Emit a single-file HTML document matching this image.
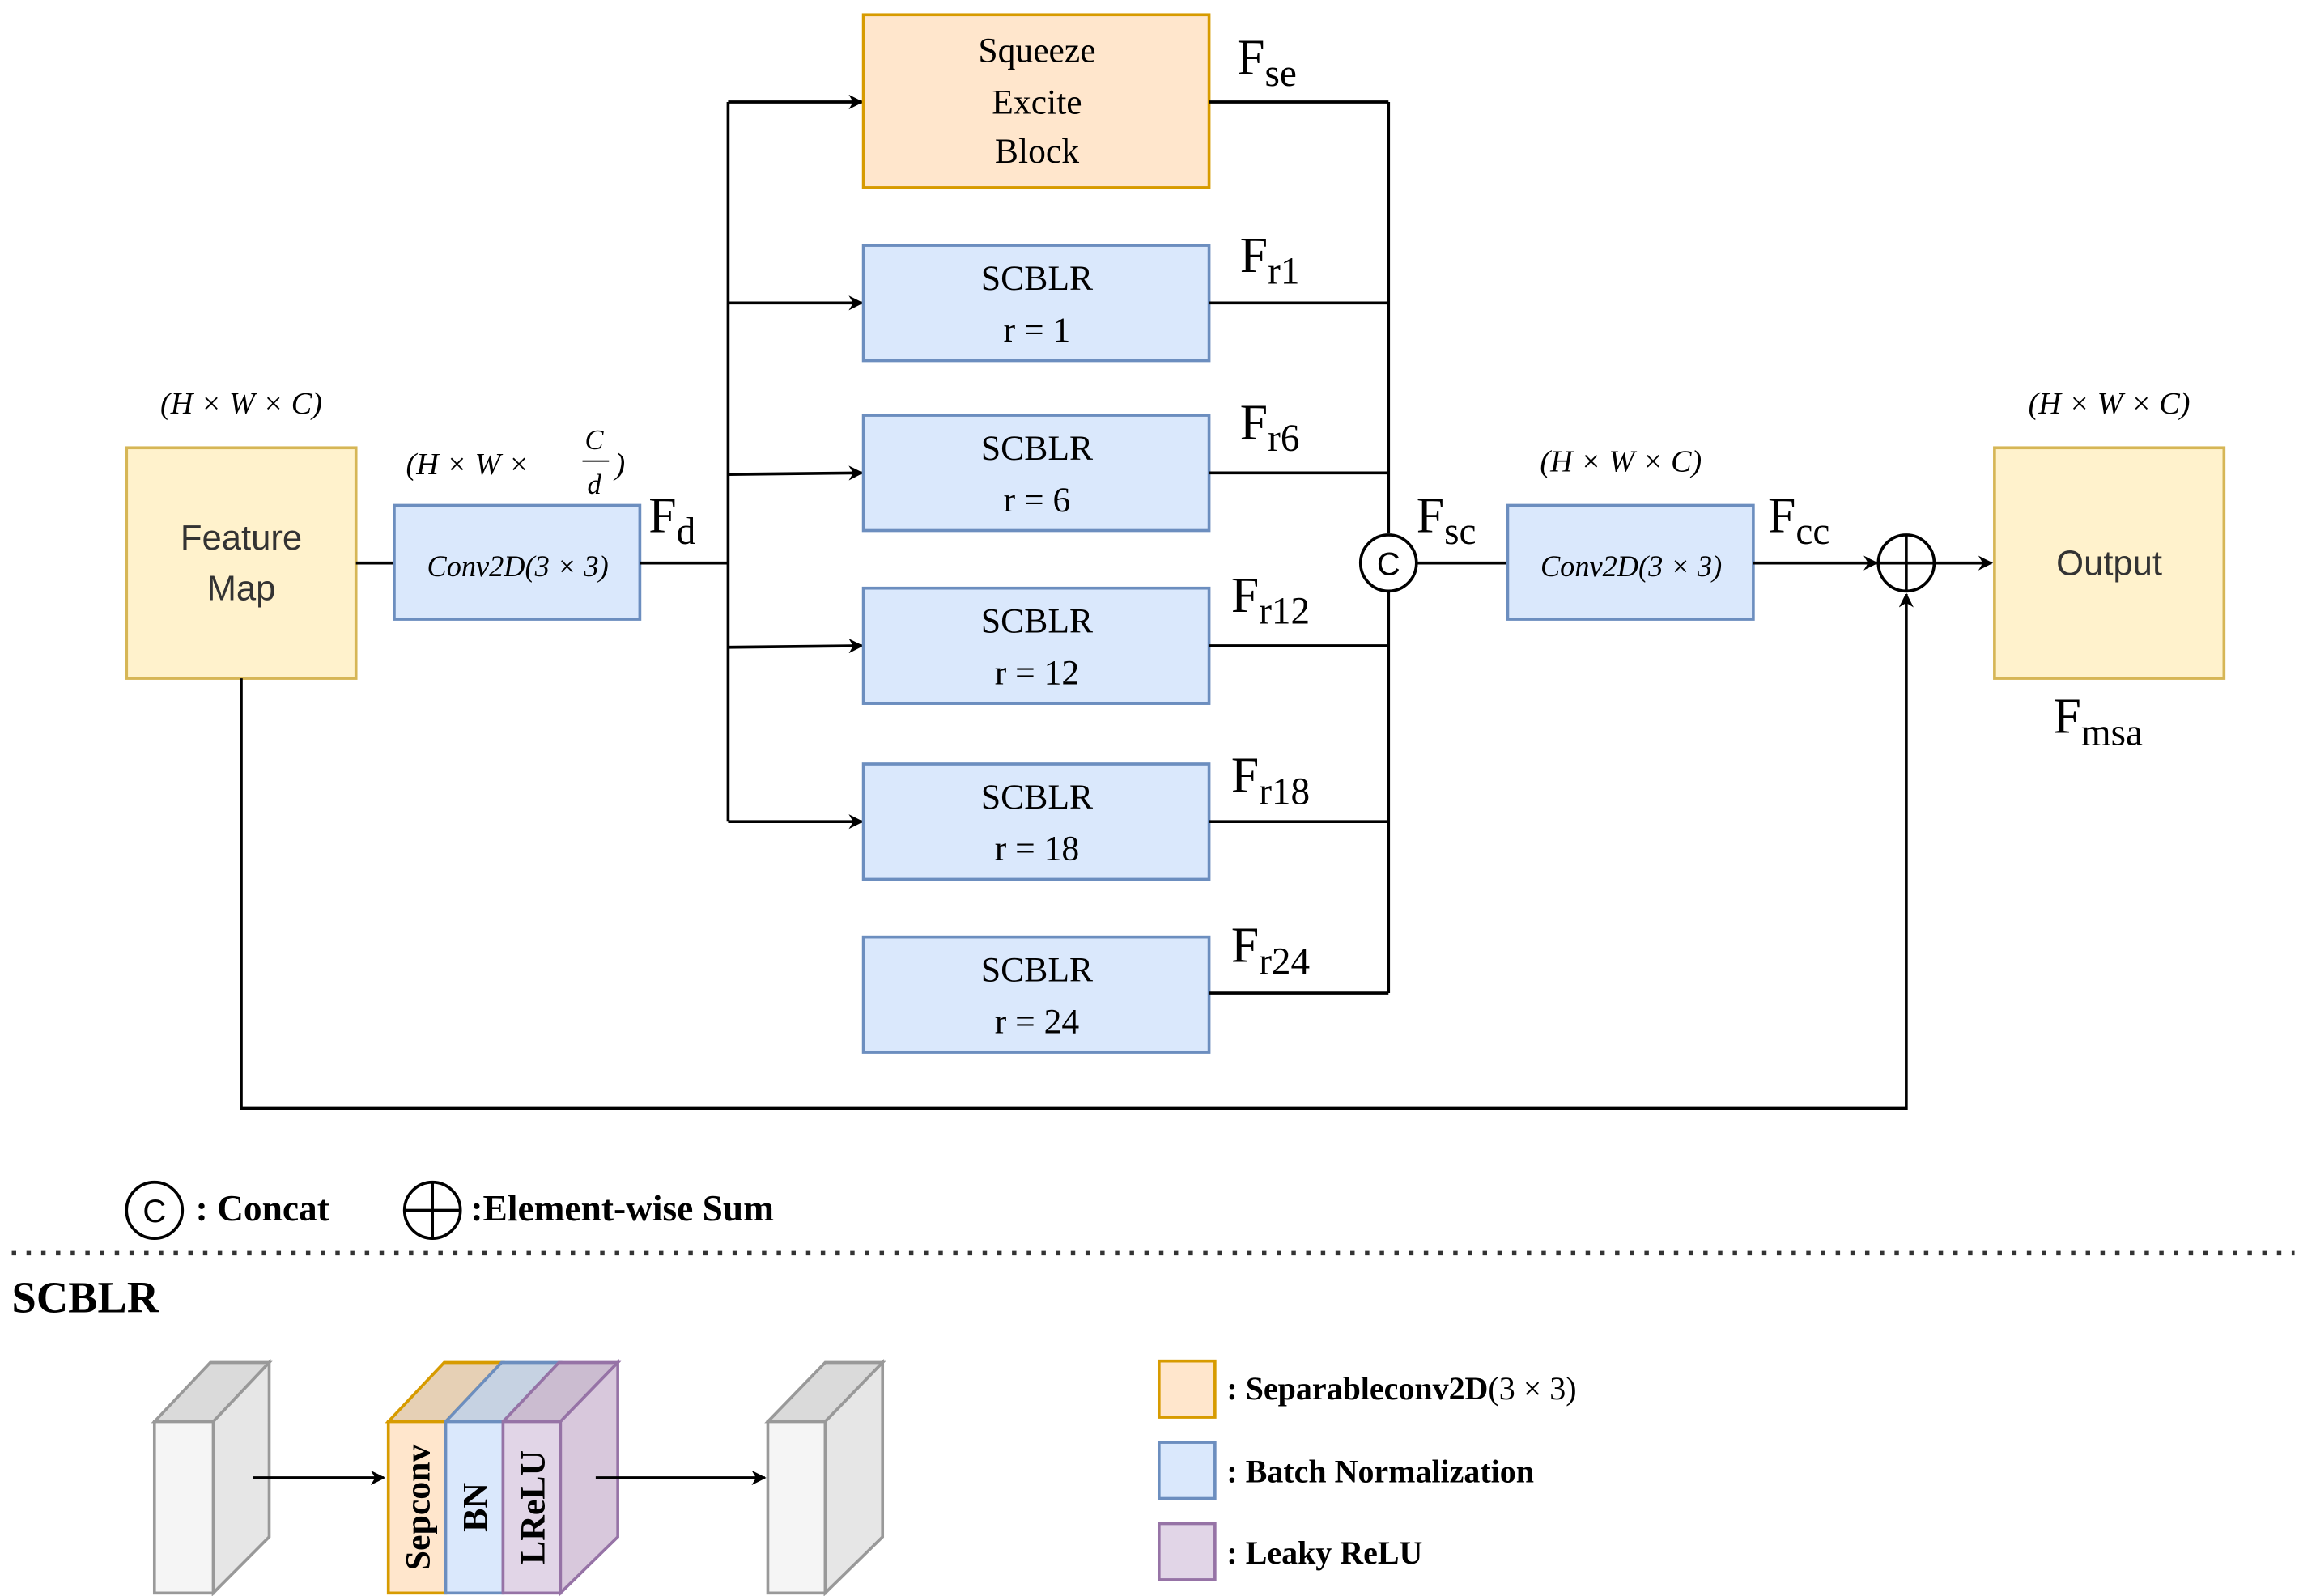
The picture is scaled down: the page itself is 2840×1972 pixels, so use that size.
<!DOCTYPE html>
<html><head><meta charset="utf-8"><style>html,body{margin:0;padding:0;background:#fff}svg{display:block}</style></head><body>
<svg width="2840" height="1972" viewBox="0 0 1563 1080" preserveAspectRatio="none" xmlns="http://www.w3.org/2000/svg">
<defs><marker id="a" markerWidth="10" markerHeight="10" refX="9" refY="5" orient="auto" markerUnits="userSpaceOnUse"><path d="M0,0 L10,5 L0,10 L3,5 z" fill="#000"/></marker></defs>
<g font-family="Liberation Serif, serif" fill="#000">
<!-- Feature map -->
<rect x="86" y="303" width="156" height="156" fill="#fff2cc" stroke="#d6b656" stroke-width="2"/>
<text x="164" y="372" font-family="Liberation Sans, sans-serif" font-size="24" text-anchor="middle" fill="#333">Feature</text>
<text x="164" y="406" font-family="Liberation Sans, sans-serif" font-size="24" text-anchor="middle" fill="#333">Map</text>
<text x="164" y="280" font-size="21" font-style="italic" text-anchor="middle">(H × W × C)</text>
<!-- conv -->
<line x1="242" y1="381" x2="268" y2="381" stroke="#000" stroke-width="2"/>
<rect x="268" y="342" width="167" height="77" fill="#dae8fc" stroke="#6c8ebf" stroke-width="2"/>
<text x="352" y="390" font-size="20" font-style="italic" text-anchor="middle">Conv2D(3 × 3)</text>
<text x="276" y="321" font-size="21" font-style="italic">(H × W ×</text>
<text x="404" y="304" font-size="19" font-style="italic" text-anchor="middle">C</text>
<line x1="396" y1="312" x2="414" y2="312" stroke="#000"/>
<text x="404" y="334" font-size="19" font-style="italic" text-anchor="middle">d</text>
<text x="418" y="321" font-size="21" font-style="italic">)</text>
<text x="441" y="360" font-size="34">F<tspan font-size="26" dy="8">d</tspan></text>
<!-- branches -->
<line x1="435" y1="381" x2="495" y2="381" stroke="#000" stroke-width="2"/>
<line x1="495" y1="69" x2="495" y2="556" stroke="#000" stroke-width="2"/>
<g stroke="#000" stroke-width="2" marker-end="url(#a)">
<line x1="495" y1="69" x2="586" y2="69"/>
<line x1="495" y1="205" x2="586" y2="205"/>
<line x1="495" y1="321" x2="586" y2="320"/>
<line x1="495" y1="438" x2="586" y2="437"/>
<line x1="495" y1="556" x2="586" y2="556"/>
</g>
<rect x="587" y="10" width="235" height="117" fill="#ffe6cc" stroke="#d79b00" stroke-width="2"/>
<text x="705" y="42" font-size="24" text-anchor="middle">Squeeze</text>
<text x="705" y="77" font-size="24" text-anchor="middle">Excite</text>
<text x="705" y="110" font-size="24" text-anchor="middle">Block</text>
<g fill="#dae8fc" stroke="#6c8ebf" stroke-width="2">
<rect x="587" y="166" width="235" height="78"/>
<rect x="587" y="281" width="235" height="78"/>
<rect x="587" y="398" width="235" height="78"/>
<rect x="587" y="517" width="235" height="78"/>
<rect x="587" y="634" width="235" height="78"/>
</g>
<g font-size="24" text-anchor="middle">
<text x="705" y="196">SCBLR</text><text x="705" y="231">r = 1</text>
<text x="705" y="311">SCBLR</text><text x="705" y="346">r = 6</text>
<text x="705" y="428">SCBLR</text><text x="705" y="463">r = 12</text>
<text x="705" y="547">SCBLR</text><text x="705" y="582">r = 18</text>
<text x="705" y="664">SCBLR</text><text x="705" y="699">r = 24</text>
</g>
<g stroke="#000" stroke-width="2">
<line x1="822" y1="69" x2="944" y2="69"/>
<line x1="822" y1="205" x2="944" y2="205"/>
<line x1="822" y1="320" x2="944" y2="320"/>
<line x1="822" y1="437" x2="944" y2="437"/>
<line x1="822" y1="556" x2="944" y2="556"/>
<line x1="822" y1="672" x2="944" y2="672"/>
<line x1="944" y1="69" x2="944" y2="361"/>
<line x1="944" y1="400" x2="944" y2="672"/>
</g>
<g font-size="34">
<text x="841" y="50">F<tspan font-size="26" dy="8">se</tspan></text>
<text x="843" y="184">F<tspan font-size="26" dy="8">r1</tspan></text>
<text x="843" y="297">F<tspan font-size="26" dy="8">r6</tspan></text>
<text x="837" y="414">F<tspan font-size="26" dy="8">r12</tspan></text>
<text x="837" y="536">F<tspan font-size="26" dy="8">r18</tspan></text>
<text x="837" y="651">F<tspan font-size="26" dy="8">r24</tspan></text>
<text x="963" y="360">F<tspan font-size="26" dy="8">sc</tspan></text>
<text x="1202" y="360">F<tspan font-size="26" dy="8">cc</tspan></text>
<text x="1396" y="496">F<tspan font-size="26" dy="8">msa</tspan></text>
</g>
<circle cx="944" cy="381" r="19" fill="#fff" stroke="#000" stroke-width="2"/>
<text x="944" y="389" font-family="Liberation Sans, sans-serif" font-size="22" text-anchor="middle">C</text>
<line x1="963" y1="381" x2="1025" y2="381" stroke="#000" stroke-width="2"/>
<rect x="1025" y="342" width="167" height="77" fill="#dae8fc" stroke="#6c8ebf" stroke-width="2"/>
<text x="1109" y="390" font-size="20" font-style="italic" text-anchor="middle">Conv2D(3 × 3)</text>
<text x="1102" y="319" font-size="21" font-style="italic" text-anchor="middle">(H × W × C)</text>
<line x1="1192" y1="381" x2="1276" y2="381" stroke="#000" stroke-width="2" marker-end="url(#a)"/>
<circle cx="1296" cy="381" r="19" fill="#fff" stroke="#000" stroke-width="2"/>
<line x1="1277" y1="381" x2="1315" y2="381" stroke="#000" stroke-width="2"/>
<line x1="1296" y1="362" x2="1296" y2="400" stroke="#000" stroke-width="2"/>
<line x1="1315" y1="381" x2="1354" y2="381" stroke="#000" stroke-width="2" marker-end="url(#a)"/>
<polyline points="164,459 164,750 1296,750 1296,402" fill="none" stroke="#000" stroke-width="2" marker-end="url(#a)"/>
<rect x="1356" y="303" width="156" height="156" fill="#fff2cc" stroke="#d6b656" stroke-width="2"/>
<text x="1434" y="389" font-family="Liberation Sans, sans-serif" font-size="24" text-anchor="middle" fill="#333">Output</text>
<text x="1434" y="280" font-size="21" font-style="italic" text-anchor="middle">(H × W × C)</text>
<!-- legend -->
<circle cx="105" cy="819" r="19" fill="#fff" stroke="#000" stroke-width="2"/>
<text x="105" y="827" font-family="Liberation Sans, sans-serif" font-size="22" text-anchor="middle">C</text>
<text x="133" y="826" font-size="25" font-weight="bold">: Concat</text>
<circle cx="294" cy="819" r="19" fill="#fff" stroke="#000" stroke-width="2"/>
<line x1="275" y1="819" x2="313" y2="819" stroke="#000" stroke-width="2"/>
<line x1="294" y1="800" x2="294" y2="838" stroke="#000" stroke-width="2"/>
<text x="320" y="826" font-size="25" font-weight="bold">:Element-wise Sum</text>
<line x1="8" y1="848" x2="1560" y2="848" stroke="#333" stroke-width="3" stroke-dasharray="3,7"/>
<text x="8" y="888" font-size="30" font-weight="bold">SCBLR</text>
<!-- blocks -->
<g stroke="#999" stroke-width="2">
<polygon points="105,962 145,962 183,922 143,922" fill="#dadada"/>
<polygon points="145,962 183,922 183,1040 145,1078" fill="#e6e6e6"/>
<rect x="105" y="962" width="40" height="116" fill="#f5f5f5"/>
<polygon points="522,962 561,962 600,922 561,922" fill="#dadada"/>
<polygon points="561,962 600,922 600,1040 561,1078" fill="#e6e6e6"/>
<rect x="522" y="962" width="39" height="116" fill="#f5f5f5"/>
</g>
<polygon points="264,962 303,962 341,922 302,922" fill="#e6d0b5" stroke="#d79b00" stroke-width="2"/>
<polygon points="303,962 342,962 380,922 341,922" fill="#c6d2e2" stroke="#6c8ebf" stroke-width="2"/>
<polygon points="342,962 381,962 420,922 380,922" fill="#cbbcd0" stroke="#9673a6" stroke-width="2"/>
<polygon points="381,962 420,922 420,1040 381,1078" fill="#d8c8dc" stroke="#9673a6" stroke-width="2"/>
<rect x="264" y="962" width="39" height="116" fill="#ffe6cc" stroke="#d79b00" stroke-width="2"/>
<rect x="303" y="962" width="39" height="116" fill="#dae8fc" stroke="#6c8ebf" stroke-width="2"/>
<rect x="342" y="962" width="39" height="116" fill="#e1d5e7" stroke="#9673a6" stroke-width="2"/>
<g font-size="24" font-weight="bold" text-anchor="middle">
<text transform="translate(292,1020) rotate(-90)">Sepconv</text>
<text transform="translate(331,1020) rotate(-90)">BN</text>
<text transform="translate(370,1020) rotate(-90)">LReLU</text>
</g>
<line x1="172" y1="1000" x2="261" y2="1000" stroke="#000" stroke-width="2" marker-end="url(#a)"/>
<line x1="405" y1="1000" x2="520" y2="1000" stroke="#000" stroke-width="2" marker-end="url(#a)"/>
<rect x="788" y="921" width="38" height="38" fill="#ffe6cc" stroke="#d79b00" stroke-width="2"/>
<rect x="788" y="976" width="38" height="38" fill="#dae8fc" stroke="#6c8ebf" stroke-width="2"/>
<rect x="788" y="1031" width="38" height="38" fill="#e1d5e7" stroke="#9673a6" stroke-width="2"/>
<g font-size="22" font-weight="bold">
<text x="834" y="947">: Separableconv2D<tspan font-weight="normal">(3 × 3)</tspan></text>
<text x="834" y="1003">: Batch Normalization</text>
<text x="834" y="1058">: Leaky ReLU</text>
</g>
</g>
</svg>
</body></html>
